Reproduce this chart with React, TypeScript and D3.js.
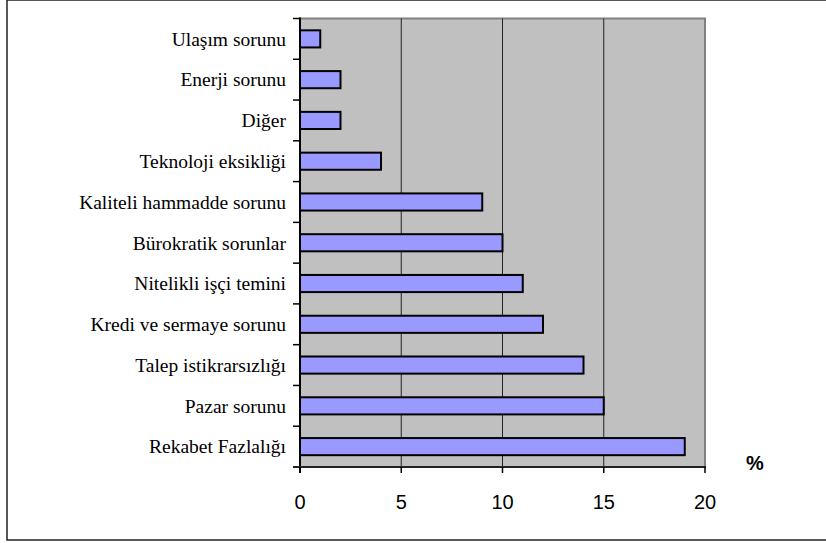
import React, { useEffect, useRef } from "react";
import * as d3 from "d3";

const categories = [
  "Ulaşım sorunu",
  "Enerji sorunu",
  "Diğer",
  "Teknoloji eksikliği ",
  "Kaliteli hammadde sorunu",
  "Bürokratik sorunlar",
  "Nitelikli işçi temini",
  "Kredi ve sermaye sorunu",
  "Talep istikrarsızlığı",
  "Pazar sorunu",
  "Rekabet Fazlalığı",
];
const values = [1, 2, 2, 4, 9, 10, 11, 12, 14, 15, 19];
const xTicks = [0, 5, 10, 15, 20];
const unitLabel = "%";

export default function App() {
  const ref = useRef<SVGSVGElement>(null);
  useEffect(() => {
    const svg = d3.select(ref.current);
    svg.selectAll("*").remove();
    const W = 826, H = 543;
    const L = 300, R = 705, T = 18.5, B = 467;
    const x = d3.scaleLinear().domain([0, 20]).range([L, R]);
    const y = d3.scaleBand().domain(categories).range([T, B]).paddingInner(0).paddingOuter(0);

    svg.append("rect").attr("x", 0).attr("y", 0).attr("width", W).attr("height", H).attr("fill", "#fff");
    svg.append("rect").attr("x", 7).attr("y", 0).attr("width", 830).attr("height", 540)
      .attr("fill", "none").attr("stroke", "#222").attr("stroke-width", 1.5);

    svg.append("rect").attr("x", L).attr("y", T).attr("width", R - L).attr("height", B - T)
      .attr("fill", "#c0c0c0").attr("stroke", "#808080").attr("stroke-width", 2);

    svg.append("g").selectAll("line").data(xTicks.filter(t => t > 0 && t < 20)).join("line")
      .attr("x1", d => x(d)).attr("x2", d => x(d)).attr("y1", T).attr("y2", B)
      .attr("stroke", "#222").attr("stroke-width", 1);

    const bh = y.bandwidth() * 0.42;
    svg.append("g").selectAll("rect").data(values).join("rect")
      .attr("x", x(0)).attr("width", d => x(d) - x(0))
      .attr("y", (d, i) => (y(categories[i]) as number) + y.bandwidth() / 2 - bh / 2)
      .attr("height", bh)
      .attr("fill", "#9999ff").attr("stroke", "#000").attr("stroke-width", 2);

    svg.append("line").attr("x1", L).attr("x2", L).attr("y1", T - 1).attr("y2", B + 6)
      .attr("stroke", "#000").attr("stroke-width", 2);
    const bounds = categories.map(c => y(c) as number).concat([B]);
    svg.append("g").selectAll("line").data(bounds).join("line")
      .attr("x1", L - 7).attr("x2", L).attr("y1", d => d).attr("y2", d => d)
      .attr("stroke", "#000").attr("stroke-width", 1.5);
    svg.append("g").selectAll("text").data(categories).join("text")
      .attr("x", 286).attr("y", d => (y(d) as number) + y.bandwidth() / 2)
      .attr("dy", "0.35em").attr("text-anchor", "end")
      .attr("font-family", "'Liberation Serif', 'Times New Roman', serif").attr("font-size", 19.5)
      .attr("fill", "#000").text(d => d);

    svg.append("line").attr("x1", L - 7).attr("x2", R + 1).attr("y1", B).attr("y2", B)
      .attr("stroke", "#222").attr("stroke-width", 2);
    svg.append("g").selectAll("line").data(xTicks).join("line")
      .attr("x1", d => x(d)).attr("x2", d => x(d)).attr("y1", B).attr("y2", B + 6)
      .attr("stroke", "#000").attr("stroke-width", 1.5);
    svg.append("g").selectAll("text").data(xTicks).join("text")
      .attr("x", d => x(d)).attr("y", 509).attr("text-anchor", "middle")
      .attr("font-family", "'Liberation Sans', Arial, sans-serif").attr("font-size", 20)
      .attr("fill", "#000").text(d => String(d));

    svg.append("text").attr("x", 755).attr("y", 470).attr("text-anchor", "middle")
      .attr("font-family", "'Liberation Sans', Arial, sans-serif").attr("font-size", 20)
      .attr("font-weight", "bold").attr("fill", "#000").text(unitLabel);
  }, []);
  return (
    <svg ref={ref} width={826} height={543}
      style={{ position: "absolute", left: 0, top: 0, display: "block" }} />
  );
}
